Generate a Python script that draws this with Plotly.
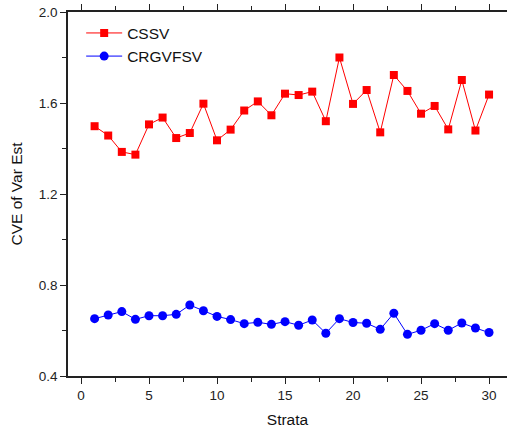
import plotly.graph_objects as go

strata = list(range(1, 31))
cssv = [1.498, 1.457, 1.385, 1.373, 1.506, 1.536, 1.446, 1.468, 1.597, 1.436,
        1.483, 1.567, 1.607, 1.546, 1.641, 1.635, 1.650, 1.520, 1.800, 1.596,
        1.657, 1.471, 1.723, 1.653, 1.553, 1.587, 1.484, 1.701, 1.479, 1.637]
crgvfsv = [0.652, 0.668, 0.683, 0.649, 0.665, 0.665, 0.671, 0.712, 0.687, 0.662,
           0.648, 0.630, 0.636, 0.627, 0.639, 0.623, 0.646, 0.588, 0.652, 0.635,
           0.632, 0.605, 0.676, 0.583, 0.601, 0.630, 0.601, 0.633, 0.611, 0.591]
x_ticks = [0, 5, 10, 15, 20, 25, 30]
y_ticks = [0.4, 0.8, 1.2, 1.6, 2.0]

font_family = "Liberation Sans, Arial, sans-serif"

fig = go.Figure()
fig.add_trace(go.Scatter(
    x=strata, y=cssv, name="CSSV", mode="lines+markers",
    line=dict(color="#FF0000", width=1),
    marker=dict(symbol="square", size=8, color="#FF0000"),
))
fig.add_trace(go.Scatter(
    x=strata, y=crgvfsv, name="CRGVFSV", mode="lines+markers",
    line=dict(color="#0000FF", width=1),
    marker=dict(symbol="circle", size=9, color="#0000FF"),
))

axis_common = dict(
    showgrid=False, zeroline=False,
    showline=True, linecolor="#222222", linewidth=1.5,
    ticks="outside", ticklen=6, tickwidth=1.2, tickcolor="#222222",
    tickfont=dict(family=font_family, size=13.5, color="#222222"),
)

fig.update_xaxes(
    range=[-0.956, 31.32], tickvals=x_ticks, mirror="ticks",
    minor=dict(ticks="outside", ticklen=4, tickwidth=1, tickcolor="#222222", dtick=2.5, tick0=2.5),
    title=dict(text="Strata", font=dict(family=font_family, size=15.5, color="#111111"), standoff=12),
    **axis_common,
)
fig.update_yaxes(
    range=[0.4, 2.0], tickvals=y_ticks, tickformat=".1f", mirror=False,
    minor=dict(ticks="outside", ticklen=4, tickwidth=1, tickcolor="#222222", dtick=0.2, tick0=0.2),
    title=dict(text="CVE of Var Est", font=dict(family=font_family, size=15.5, color="#111111"), standoff=12),
    **axis_common,
)

fig.update_layout(
    width=507, height=431,
    margin=dict(l=68, r=0, t=12, b=55),
    paper_bgcolor="white", plot_bgcolor="white",
    showlegend=True,
    legend=dict(
        x=0.03, y=0.988, xanchor="left", yanchor="top",
        itemwidth=36,
        bgcolor="rgba(0,0,0,0)",
        font=dict(family=font_family, size=15.5, color="#111111"),
    ),
)

fig.write_html("out.html")
